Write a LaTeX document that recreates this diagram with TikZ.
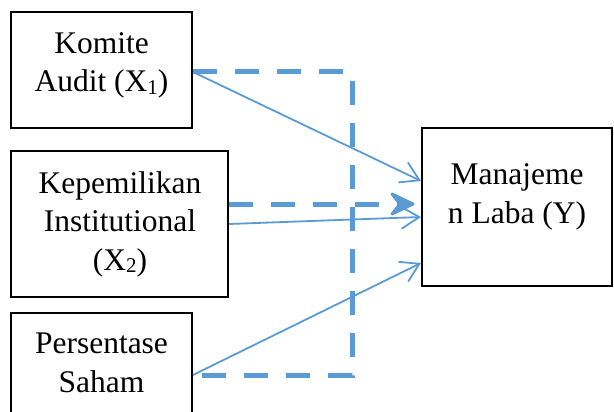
\documentclass[tikz,border=0pt]{standalone}
\usepackage{fontspec}
\setmainfont{Liberation Serif}
\usetikzlibrary{arrows.meta}
\definecolor{accblue}{HTML}{5B9BD5}
\newcommand{\mysub}[1]{\raisebox{-2.5pt}{\fontsize{21}{21}\selectfont #1}}
\begin{document}
\begin{tikzpicture}[x=1pt,y=-1pt,
  box/.style={draw=black, line width=2pt, inner sep=0pt, fill=white},
  lbl/.style={font=\fontsize{31.5}{38.5}\selectfont, align=center, anchor=base, inner sep=0pt},
  solidarrow/.style={draw=accblue, line width=1.8pt, -{Straight Barb[length=18pt,width=22pt,line width=1.8pt]}},
  dashline/.style={draw=accblue, line width=5pt, dash pattern=on 24pt off 18pt},
  chevron/.style={fill=accblue, draw=accblue, line width=3pt, line join=round, solid}
]
\useasboundingbox (0,0) rectangle (614,412);
% boxes
\node[box, minimum width=181pt, minimum height=116pt] (b1) at (101.5,70) {};
\node[box, minimum width=217pt, minimum height=146pt] (b2) at (119.5,224) {};
\node[box, minimum width=181pt, minimum height=117pt] (b3) at (101.5,371.5) {};
\node[box, minimum width=190pt, minimum height=158pt] (by) at (517,207) {};
% labels (anchor base = baseline of the last line)
\node[lbl] (t1) at (101.5,92) {Komite\\Audit (X\mysub{1})};
\node[lbl] (t2) at (120,270) {Kepemilikan\\Institutional\\(X\mysub{2})};
\node[lbl] (t3) at (101.5,392) {Persentase\\Saham};
\node[lbl] (ty) at (517,223) {Manajeme\\n Laba (Y)};
% dashed connectors
\draw[dashline] (b1.east |- 0,72) -| (352,375) -- (b3.east |- 0,375);
\coordinate (dtip) at (413,204);
\coordinate (dnotch) at (400,204);
\draw[dashline] (b2.east |- 0,204) -- (dnotch);
\filldraw[chevron] ([shift={(-21,-10)}]dtip) -- (dtip) -- ([shift={(-21,10)}]dtip) -- ([shift={(-13,0)}]dtip) -- cycle;
% solid arrows
\draw[solidarrow] (b1.east |- 0,72) -- (by.west |- 0,181);
\draw[solidarrow] (b2.east |- 0,224) -- (by.west |- 0,217);
\draw[solidarrow] (b3.east |- 0,375) -- (by.west |- 0,263);
\end{tikzpicture}
\end{document}
